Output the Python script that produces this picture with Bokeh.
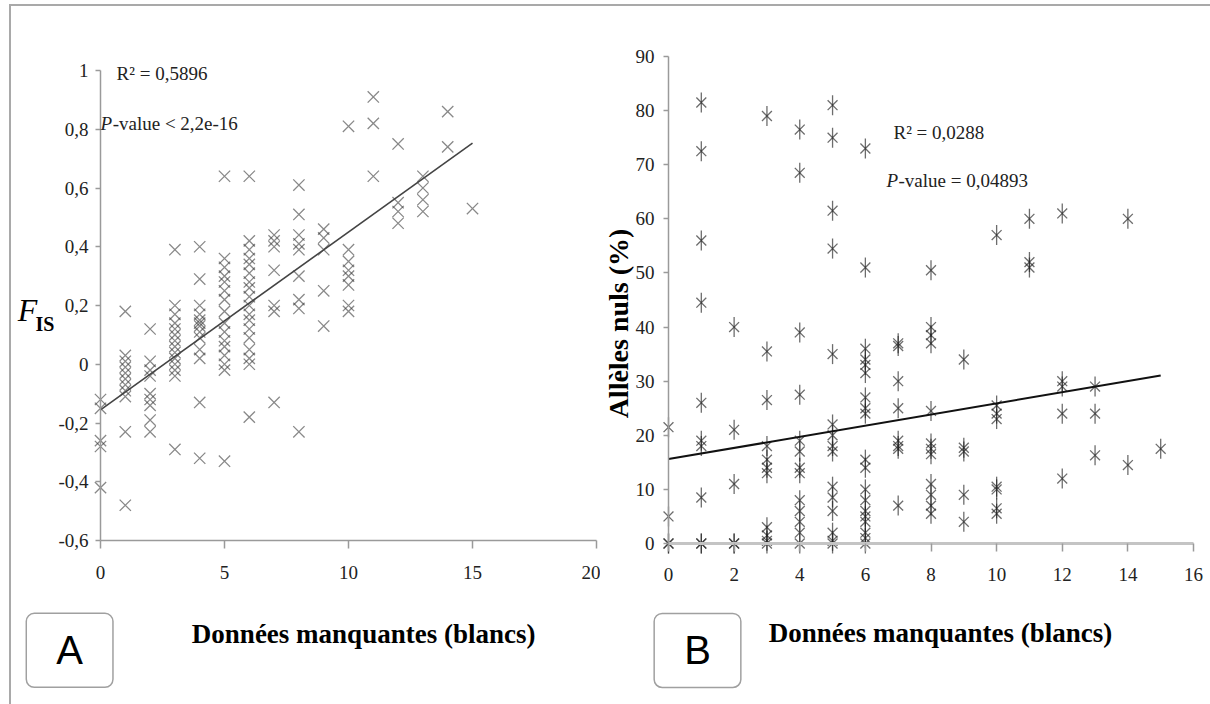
import numpy as np
from bokeh.plotting import figure
from bokeh.models import ColumnDataSource, Label, FixedTicker, CustomJSTickFormatter
from bokeh.layouts import row
from bokeh.embed import file_html
from bokeh.resources import INLINE

# ---------------- Panel A data : F_IS vs missing data ----------------
a_missing = [0, 1, 2, 3, 4, 5, 6, 7, 8, 9, 10, 11, 12, 13, 14, 15]
a_fis = [
    [-0.12, -0.15, -0.26, -0.28, -0.42],
    [0.18, 0.03, 0.01, -0.01, -0.03, -0.05, -0.07, -0.09, -0.11, -0.23, -0.48],
    [0.12, 0.01, -0.02, -0.04, -0.10, -0.12, -0.14, -0.19, -0.23],
    [0.39, 0.20, 0.17, 0.14, 0.12, 0.10, 0.08, 0.06, 0.04, 0.02, 0.00, -0.02, -0.04, -0.29],
    [0.40, 0.29, 0.20, 0.17, 0.15, 0.14, 0.13, 0.11, 0.09, 0.05, 0.02, -0.13, -0.32],
    [0.64, 0.36, 0.33, 0.30, 0.28, 0.25, 0.22, 0.18, 0.14, 0.11, 0.08, 0.06, 0.03, 0.00, -0.02, -0.33],
    [0.64, 0.42, 0.39, 0.36, 0.34, 0.31, 0.28, 0.26, 0.23, 0.20, 0.17, 0.15, 0.12, 0.09, 0.05, 0.02, 0.00, -0.18],
    [0.44, 0.42, 0.40, 0.32, 0.20, 0.18, -0.13],
    [0.61, 0.51, 0.44, 0.41, 0.39, 0.30, 0.22, 0.19, -0.23],
    [0.46, 0.43, 0.39, 0.25, 0.13],
    [0.81, 0.39, 0.35, 0.32, 0.30, 0.27, 0.20, 0.18],
    [0.91, 0.82, 0.64],
    [0.75, 0.55, 0.52, 0.48],
    [0.64, 0.60, 0.56, 0.52],
    [0.86, 0.74],
    [0.53],
]
a_fit = (-0.155, 0.0605)          # intercept, slope
a_fit_span = (0, 15)
a_xticks = [0, 5, 10, 15, 20]
a_yticks = [-0.6, -0.4, -0.2, 0, 0.2, 0.4, 0.6, 0.8, 1]

# ---------------- Panel B data : null alleles vs missing data ----------------
b_missing = [0, 1, 2, 3, 4, 5, 6, 7, 8, 9, 10, 11, 12, 13, 14, 15]
b_null = [
    [21.5, 5, 0, 0],
    [81.5, 72.5, 56, 44.5, 26, 19, 18, 8.5, 0, 0],
    [40, 21, 11, 0, 0],
    [79, 35.5, 26.5, 18, 15.5, 14, 13, 3, 1.5, 0.5, 0],
    [76.5, 68.5, 39, 27.5, 19, 17, 14, 13, 8, 6, 4, 2, 0],
    [81, 75, 61.5, 54.5, 35, 22, 20, 18, 17, 10.5, 8.5, 6, 2, 0.5, 0],
    [73, 51, 36, 34, 33, 31.5, 27, 25, 24, 15.5, 14, 10, 8, 6, 5, 4, 2, 1, 0],
    [37, 36.5, 30, 25, 19, 18, 17.5, 7],
    [50.5, 40, 38.5, 37, 24.5, 18.5, 17.5, 16.5, 11, 9, 7, 5.5],
    [34, 17.7, 17, 9, 4],
    [57, 25.5, 24, 23, 10.5, 10, 6.5, 5.5],
    [60, 52, 51],
    [61, 30, 29, 24, 12],
    [29, 24, 16.3],
    [60, 14.5],
    [17.5],
]
b_fit = (15.6, 1.03)
b_fit_span = (0, 15)
b_xticks = [0, 2, 4, 6, 8, 10, 12, 14, 16]
b_yticks = [0, 10, 20, 30, 40, 50, 60, 70, 80, 90]

SERIF = "Liberation Serif"
SANS = "Liberation Sans"
AX = "#9a9a9a"
TXT = "#222222"


def flatten(xs, ys):
    fx, fy = [], []
    for x, col in zip(xs, ys):
        for v in col:
            fx.append(x)
            fy.append(v)
    return fx, fy


def style_axes(p):
    p.xgrid.visible = False
    p.ygrid.visible = False
    p.outline_line_color = None
    for ax in (p.xaxis[0], p.yaxis[0]):
        ax.axis_line_color = AX
        ax.axis_line_width = 1.5
        ax.major_tick_line_color = AX
        ax.major_tick_line_width = 1.5
        ax.major_tick_in = 0
        ax.minor_tick_line_color = None
        ax.major_label_text_font = SERIF
        ax.major_label_text_font_size = "19px"
        ax.major_label_text_color = TXT


# ---------------- Figure A ----------------
# figure covers page x 11..600, y 6..704 ; x=0 at px 100, x=20 at 596 ; y=1 at 70, y=-0.6 at 540
pA = figure(width=589, height=698, x_range=(-3.5887, 20.161), y_range=(-1.1583, 1.2179),
            min_border_left=0, min_border_right=0, min_border_top=0, min_border_bottom=0,
            output_backend="svg", toolbar_location=None, background_fill_color="white",
            border_fill_color="white")
style_axes(pA)
pA.xaxis.ticker = FixedTicker(ticks=a_xticks)
pA.xaxis.bounds = (0, 20)
pA.xaxis.fixed_location = -0.6
pA.xaxis.major_tick_out = 8
pA.xaxis.major_label_standoff = 17
pA.yaxis.ticker = FixedTicker(ticks=a_yticks)
pA.yaxis.bounds = (-0.6, 1)
pA.yaxis.fixed_location = 0
pA.yaxis.major_tick_out = 5
pA.yaxis.major_label_standoff = 7
pA.yaxis.formatter = CustomJSTickFormatter(code="""
    if (Math.abs(tick) < 1e-9) return '0';
    if (Math.abs(tick - Math.round(tick)) < 1e-9) return String(Math.round(tick));
    return tick.toFixed(1).replace('.', ',');
""")

ax_, ay_ = flatten(a_missing, a_fis)
srcA = ColumnDataSource(dict(x=ax_, y=ay_))
pA.scatter("x", "y", source=srcA, marker="x", size=16, line_color="#3a3a3a",
           line_alpha=0.6, line_width=1.3)
fxa = np.array(a_fit_span, dtype=float)
pA.line(fxa, a_fit[0] + a_fit[1] * fxa, line_color="#444444", line_width=1.6)

pA.add_layout(Label(x=0.65, y=0.99, text="R² = 0,5896", text_font=SERIF,
                    text_font_size="19px", text_baseline="middle", text_color=TXT))
pA.add_layout(Label(x=0.0, y=0.82, text="P", text_font=SERIF, text_font_style="italic",
                    text_font_size="19px", text_baseline="middle", text_color=TXT))
pA.add_layout(Label(x=0.49, y=0.82, text="-value < 2,2e-16", text_font=SERIF,
                    text_font_size="19px", text_baseline="middle", text_color=TXT))
pA.add_layout(Label(x=-3.34, y=0.185, text="F", text_font=SERIF, text_font_style="italic",
                    text_font_size="32px", text_baseline="alphabetic", text_color="black"))
pA.add_layout(Label(x=-2.62, y=0.137, text="IS", text_font=SERIF, text_font_style="bold",
                    text_font_size="20px", text_baseline="alphabetic", text_color="black"))
pA.add_layout(Label(x=10.61, y=-0.917, text="Données manquantes (blancs)", text_font=SERIF,
                    text_font_style="bold", text_font_size="27px", text_align="center",
                    text_baseline="middle", text_color="black"))
pA.add_layout(Label(x=-1.245, y=-0.974, text="A", text_font=SANS, text_font_size="40px",
                    text_align="center", text_baseline="middle", text_color="black",
                    background_fill_color="white", border_line_color="#a0a0a0",
                    border_line_width=1.5, padding=(30, 15), border_radius=8))

# ---------------- Figure B ----------------
# figure covers page x 600..1210, y 6..704 ; x=0 at 668, x=16 at 1193 ; y=0 at 543, y=90 at 56
pB = figure(width=610, height=698, x_range=(-2.0724, 16.518), y_range=(-29.754, 99.24),
            min_border_left=0, min_border_right=0, min_border_top=0, min_border_bottom=0,
            output_backend="svg", toolbar_location=None, background_fill_color="white",
            border_fill_color="white")
style_axes(pB)
pB.xaxis.ticker = FixedTicker(ticks=b_xticks)
pB.xaxis.bounds = (0, 16)
pB.xaxis.fixed_location = 0
pB.xaxis.axis_line_color = "#c4c4c4"
pB.xaxis.axis_line_width = 3
pB.xaxis.major_tick_out = 8
pB.xaxis.major_label_standoff = 17
pB.yaxis.ticker = FixedTicker(ticks=b_yticks)
pB.yaxis.bounds = (0, 90)
pB.yaxis.fixed_location = 0
pB.yaxis.major_tick_out = 5
pB.yaxis.major_label_standoff = 9

bx_, by_ = flatten(b_missing, b_null)
srcB = ColumnDataSource(dict(x=bx_, y=by_))
pB.scatter("x", "y", source=srcB, marker="x", size=14, line_color="#1e1e1e",
           line_alpha=0.65, line_width=1.3)
pB.scatter("x", "y", source=srcB, marker="dash", angle=np.pi / 2, size=20,
           line_color="#1e1e1e", line_alpha=0.65, line_width=1.3)
fxb = np.array(b_fit_span, dtype=float)
pB.line(fxb, b_fit[0] + b_fit[1] * fxb, line_color="#111111", line_width=2)

pB.add_layout(Label(x=6.857, y=75.95, text="R² = 0,0288", text_font=SERIF,
                    text_font_size="19px", text_baseline="middle", text_color=TXT))
pB.add_layout(Label(x=6.644, y=67.08, text="P", text_font=SERIF, text_font_style="italic",
                    text_font_size="19px", text_baseline="middle", text_color=TXT))
pB.add_layout(Label(x=7.01, y=67.08, text="-value = 0,04893", text_font=SERIF,
                    text_font_size="19px", text_baseline="middle", text_color=TXT))
pB.add_layout(Label(x=-1.52, y=40.66, text="Allèles nuls (%)", text_font=SERIF,
                    text_font_style="bold", text_font_size="28px", angle=np.pi / 2,
                    text_align="center", text_baseline="middle", text_color="black"))
pB.add_layout(Label(x=8.29, y=-16.63, text="Données manquantes (blancs)", text_font=SERIF,
                    text_font_style="bold", text_font_size="27px", text_align="center",
                    text_baseline="middle", text_color="black"))
pB.add_layout(Label(x=0.884, y=-19.77, text="B", text_font=SANS, text_font_size="40px",
                    text_align="center", text_baseline="middle", text_color="black",
                    background_fill_color="white", border_line_color="#a0a0a0",
                    border_line_width=1.5, padding=(30, 15), border_radius=8))

layout = row(pA, pB, spacing=0,
             styles={"border-top": "2px solid #a9a9a9", "border-left": "2px solid #a9a9a9",
                     "margin-left": "9px", "margin-top": "4px"})

open("out.html", "w").write(file_html(layout, INLINE))
